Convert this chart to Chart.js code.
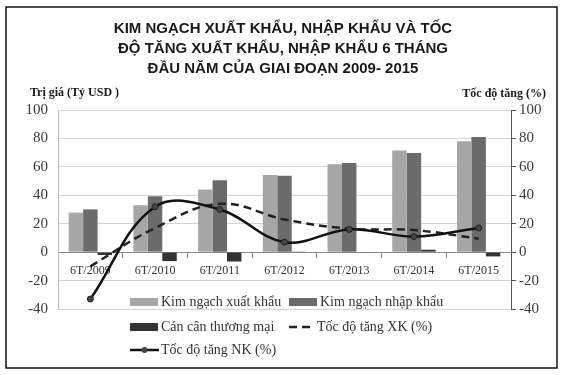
<!DOCTYPE html>
<html>
<head>
<meta charset="utf-8">
<script src="https://cdn.jsdelivr.net/npm/chart.js@4.4.0/dist/chart.umd.min.js"></script>
<style>
  html, body { margin: 0; padding: 0; background: #fff; }
  #wrap { width: 562px; height: 375px; position: relative; }
</style>
</head>
<body>
<div id="wrap"><canvas id="tradeChart"></canvas></div>
<script>
// data
const categories = ['6T/2009', '6T/2010', '6T/2011', '6T/2012', '6T/2013', '6T/2014', '6T/2015'];
const exportValues = [27.8, 33, 44, 54.3, 61.9, 71.5, 78.1];
const importValues = [30.1, 39.3, 50.6, 53.7, 62.8, 69.7, 81];
const balanceValues = [-2, -6.3, -6.6, 0.5, -0.4, 1.7, -3];
const exportGrowth = [-10, 17, 34, 23, 16.5, 15.5, 9.5];
const importGrowth = [-33, 32, 30, 7, 16, 11, 17];
const axisMin = -40;
const axisMax = 100;
const axisStep = 20;

const titleLines = [
  'KIM NGẠCH XUẤT KHẨU, NHẬP KHẨU VÀ TỐC',
  'ĐỘ TĂNG XUẤT KHẨU, NHẬP KHẨU 6 THÁNG',
  'ĐẦU NĂM CỦA GIAI ĐOẠN 2009- 2015'
];
const leftCaption = 'Trị giá (Tỷ USD )';
const rightCaption = 'Tốc độ tăng (%)';

const serif = '"Liberation Serif", "Times New Roman", serif';

// frame, title, captions and the legend drawn inside the plot like Excel does
const decor = {
  id: 'decor',
  beforeDraw(chart) {
    const ctx = chart.ctx;
    ctx.save();
    ctx.fillStyle = '#fff';
    ctx.fillRect(0, 0, chart.width, chart.height);
    ctx.restore();
  },
  afterDraw(chart) {
    const ctx = chart.ctx;
    const ds = chart.data.datasets;
    ctx.save();
    ctx.strokeStyle = '#111';
    ctx.lineWidth = 1.5;
    ctx.strokeRect(6, 7, 551, 361);

    ctx.fillStyle = '#1a1a1a';
    ctx.font = 'bold 15px "Liberation Sans", Arial, sans-serif';
    ctx.textAlign = 'center';
    ctx.textBaseline = 'alphabetic';
    titleLines.forEach((t, i) => ctx.fillText(t, 283, 33 + i * 20));

    ctx.font = 'bold 12px ' + serif;
    ctx.textAlign = 'left';
    ctx.fillText(leftCaption, 30, 96);
    ctx.textAlign = 'right';
    ctx.fillText(rightCaption, 546, 97);

    // legend
    ctx.font = '14px ' + serif;
    ctx.textAlign = 'left';
    ctx.textBaseline = 'middle';
    const box = (d, x, y) => {
      ctx.fillStyle = d.backgroundColor;
      ctx.fillRect(x, y - 4, 28, 8);
    };
    const line = (d, x, y, w) => {
      ctx.strokeStyle = d.borderColor;
      ctx.lineWidth = d.borderWidth;
      ctx.setLineDash(d.borderDash || []);
      ctx.beginPath();
      ctx.moveTo(x, y);
      ctx.lineTo(x + w, y);
      ctx.stroke();
      ctx.setLineDash([]);
      if (d.pointRadius) {
        ctx.fillStyle = d.pointBackgroundColor;
        ctx.beginPath();
        ctx.arc(x + w / 2, y, d.pointRadius, 0, Math.PI * 2);
        ctx.fill();
      }
    };
    const label = (d, x, y) => {
      ctx.fillStyle = '#333';
      ctx.fillText(d.label, x, y);
    };
    box(ds[0], 130, 302); label(ds[0], 161, 302);
    box(ds[1], 289, 302); label(ds[1], 320, 302);
    box(ds[2], 130, 327); label(ds[2], 161, 327);
    line(ds[3], 289, 327, 23); label(ds[3], 317, 327);
    line(ds[4], 130, 350, 29); label(ds[4], 161, 350);
    ctx.restore();
  }
};

const barStyle = { barPercentage: 1, categoryPercentage: 0.67, order: 2, yAxisID: 'y' };

new Chart(document.getElementById('tradeChart'), {
  type: 'bar',
  data: {
    labels: categories,
    datasets: [
      { label: 'Kim ngạch xuất khẩu', data: exportValues, backgroundColor: '#a6a6a6', ...barStyle },
      { label: 'Kim ngạch nhập khẩu', data: importValues, backgroundColor: '#6b6b6b', ...barStyle },
      { label: 'Cán cân thương mại', data: balanceValues, backgroundColor: '#333333', ...barStyle },
      {
        type: 'line', label: 'Tốc độ tăng XK (%)', data: exportGrowth, yAxisID: 'y1', order: 1,
        borderColor: '#222', borderWidth: 2.5, borderDash: [8, 5], tension: 0.4,
        pointRadius: 0, fill: false
      },
      {
        type: 'line', label: 'Tốc độ tăng NK (%)', data: importGrowth, yAxisID: 'y1', order: 0,
        borderColor: '#111', borderWidth: 2.5, tension: 0.38,
        pointRadius: 3, pointBackgroundColor: '#444', pointBorderColor: '#222', pointBorderWidth: 1,
        fill: false
      }
    ]
  },
  options: {
    responsive: true,
    maintainAspectRatio: false,
    devicePixelRatio: 1,
    animation: false,
    layout: { padding: { top: 110, bottom: 66, left: 0, right: 0 } },
    plugins: {
      legend: { display: false },
      title: { display: false },
      tooltip: { enabled: false }
    },
    scales: {
      x: {
        type: 'category',
        position: { y: 0 },
        grid: { drawOnChartArea: false, drawTicks: true, tickLength: 5, color: '#888', offset: true },
        border: { display: true, color: '#888' },
        ticks: { font: { family: serif, size: 12 }, color: '#333', padding: 7, maxRotation: 0, autoSkip: false }
      },
      y: {
        position: 'left',
        min: axisMin, max: axisMax,
        ticks: { stepSize: axisStep, font: { family: serif, size: 15 }, color: '#3a3a3a', padding: 10 },
        grid: { color: '#d4d4d4', drawTicks: false },
        border: { display: true, color: '#bbb' },
        afterFit(scale) { scale.width = 58; }
      },
      y1: {
        position: 'right',
        min: axisMin, max: axisMax,
        ticks: { stepSize: axisStep, font: { family: serif, size: 15 }, color: '#3a3a3a', padding: 3 },
        grid: { drawOnChartArea: false, drawTicks: true, tickLength: 5, color: '#555' },
        border: { display: true, color: '#555' },
        afterFit(scale) { scale.width = 51; }
      }
    }
  },
  plugins: [decor]
});
</script>
</body>
</html>
